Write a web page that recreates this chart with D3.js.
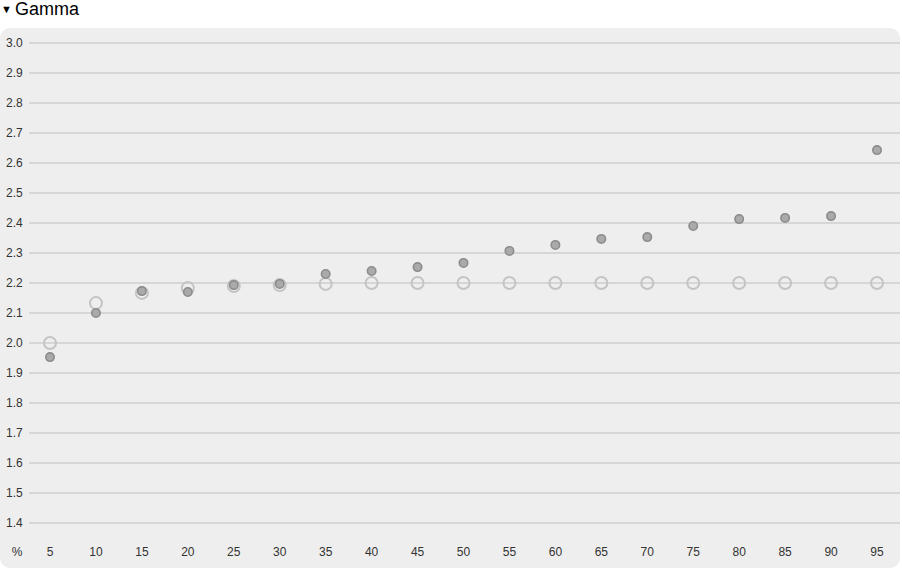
<!DOCTYPE html>
<html><head><meta charset="utf-8">
<script src="https://cdn.jsdelivr.net/npm/d3@7"></script>
<style>
body{margin:0;background:#fff;font-family:Arial,"Liberation Sans",sans-serif;}
</style></head>
<body>
<svg id="c" width="902" height="570"></svg>
<script>
const percentiles = [5,10,15,20,25,30,35,40,45,50,55,60,65,70,75,80,85,90,95];
const measured = [1.953,2.10,2.173,2.17,2.193,2.197,2.23,2.24,2.253,2.267,2.307,2.327,2.347,2.353,2.39,2.413,2.417,2.423,2.643];
const target = [2.0,2.133,2.167,2.183,2.19,2.193,2.197,2.2,2.2,2.2,2.2,2.2,2.2,2.2,2.2,2.2,2.2,2.2,2.2];
const yTicks = [1.4,1.5,1.6,1.7,1.8,1.9,2.0,2.1,2.2,2.3,2.4,2.5,2.6,2.7,2.8,2.9,3.0];

const svg = d3.select("#c");
svg.append("text").attr("x",1).attr("y",13).attr("font-size",11).attr("fill","#000").text("\u25BC");
svg.append("text").attr("x",15).attr("y",15).attr("font-size",18).attr("fill","#000").text("Gamma");

svg.append("rect").attr("x",0).attr("y",28).attr("width",900).attr("height",540)
  .attr("rx",10).attr("fill","#eeeeee");

const y = d3.scaleLinear().domain([1.4,3.0]).range([523,43]);
const x = d3.scalePoint().domain(percentiles).range([50,877]);

const g = svg.append("g");
g.selectAll("line.grid").data(yTicks).join("line")
  .attr("x1",29).attr("x2",900).attr("y1",d=>y(d)).attr("y2",d=>y(d))
  .attr("stroke","#d6d6d6").attr("stroke-width",2);
g.selectAll("text.yl").data(yTicks).join("text")
  .attr("x",6).attr("y",d=>y(d)+4).attr("font-size",12).attr("fill","#333")
  .text(d=>d.toFixed(1));
g.selectAll("text.xl").data(percentiles).join("text")
  .attr("x",d=>x(d)).attr("y",556).attr("text-anchor","middle").attr("font-size",12).attr("fill","#333")
  .text(d=>d);
g.append("text").attr("x",17).attr("y",556).attr("text-anchor","middle").attr("font-size",12).attr("fill","#333").text("%");

g.selectAll("circle.t").data(target).join("circle")
  .attr("cx",(d,i)=>x(percentiles[i])).attr("cy",d=>y(d)).attr("r",6)
  .attr("fill","none").attr("stroke","#c4c4c4").attr("stroke-width",2);
g.selectAll("circle.m").data(measured).join("circle")
  .attr("cx",(d,i)=>x(percentiles[i])).attr("cy",d=>y(d)).attr("r",4.2)
  .attr("fill","#aaaaaa").attr("stroke","#8c8c8c").attr("stroke-width",1.6);
</script>
</body></html>
